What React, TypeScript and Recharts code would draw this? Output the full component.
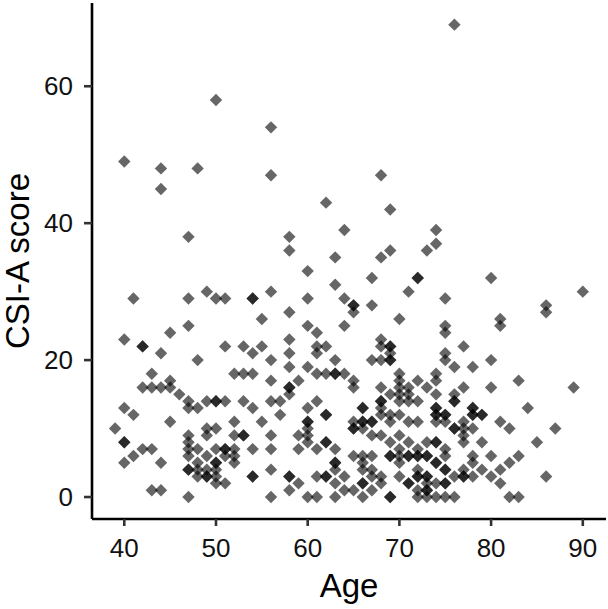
import React from "react";
import { ScatterChart, Scatter, XAxis, YAxis, Label } from "recharts";

// ages present in the sample, and the CSI-A scores seen at each age
const ageGroups: number[] = [
	39, 40, 41, 42, 43, 44, 45, 46, 47, 48, 49, 50, 51, 52, 53, 54, 55, 56, 57,
	58, 59, 60, 61, 62, 63, 64, 65, 66, 67, 68, 69, 70, 71, 72, 73, 74, 75, 76,
	77, 78, 79, 80, 81, 82, 83, 84, 85, 86, 87, 89, 90,
];

const scoreGroups: number[][] = [
	[10],
	[49, 23, 13, 8, 8, 5],
	[29, 12, 6],
	[22, 22, 16, 7],
	[18, 16, 7, 1],
	[48, 45, 21, 16, 5, 1],
	[24, 17, 16, 11],
	[15],
	[38, 29, 25, 14, 13, 9, 8, 7, 6, 4, 4, 0],
	[48, 20, 13, 7, 5, 4, 3],
	[30, 14, 10, 9, 6, 4, 3, 3],
	[58, 29, 14, 14, 10, 7, 5, 5, 4, 3, 2],
	[29, 22, 14, 7, 7, 6, 2],
	[18, 11, 9, 7, 6, 5],
	[22, 18, 14, 9, 9],
	[29, 29, 21, 18, 13, 7, 3, 3],
	[26, 22, 11],
	[54, 47, 30, 20, 17, 14, 9, 7, 4, 0],
	[14, 12],
	[38, 36, 27, 23, 21, 19, 16, 16, 15, 3, 3, 1],
	[17, 9, 7, 2],
	[33, 29, 25, 19, 13, 11, 11, 10, 9, 8, 0],
	[24, 22, 21, 18, 14, 7, 3, 0],
	[43, 22, 18, 12, 12, 8, 8, 3, 3],
	[35, 31, 20, 18, 18, 7, 5, 5, 4, 2, 0],
	[39, 29, 25, 18, 3, 1],
	[28, 28, 27, 17, 16, 11, 10, 10, 6, 1],
	[13, 13, 11, 11, 10, 6, 5, 4, 2, 2, 0],
	[32, 28, 20, 11, 11, 9, 6, 4, 3, 1],
	[47, 35, 23, 22, 20, 16, 14, 14, 13, 12, 9, 3, 2],
	[42, 36, 22, 22, 21, 20, 20, 15, 12, 11, 8, 6, 6, 0, 0],
	[26, 18, 17, 16, 15, 14, 12, 9, 7, 6, 5, 3],
	[30, 16, 15, 14, 11, 8, 6, 6, 2, 2],
	[32, 32, 17, 14, 11, 7, 6, 6, 4, 3, 3, 1, 0],
	[36, 16, 8, 6, 6, 3, 3, 2, 1, 1, 0],
	[39, 37, 18, 17, 15, 13, 13, 12, 12, 11, 8, 8, 5, 5, 2, 0],
	[29, 25, 24, 21, 20, 12, 12, 11, 7, 6, 4, 4, 2, 2, 0],
	[69, 19, 15, 14, 14, 10, 10, 3, 0],
	[22, 16, 11, 10, 9, 8, 4, 3, 3],
	[19, 13, 13, 12, 12, 10, 6, 5, 3],
	[12, 12, 8, 4],
	[32, 20, 16, 6, 3],
	[26, 25, 11, 4, 2],
	[10, 5, 0],
	[17, 6, 0],
	[13],
	[8],
	[28, 27, 3],
	[10],
	[16],
	[30],
];

const xTicks: number[] = [40, 50, 60, 70, 80, 90];
const yTicks: number[] = [0, 20, 40, 60];

const data = ageGroups.flatMap((age, i) =>
	scoreGroups[i].map((score) => ({ age, score }))
);

// rotated square marker, like ggplot's shape 18
const Diamond = (props: any) => {
	const { cx, cy } = props;
	const r = 6.2;
	return (
		<polygon
			points={`${cx},${cy - r} ${cx + r},${cy} ${cx},${cy + r} ${cx - r},${cy}`}
			fill="#000"
			fillOpacity={0.6}
		/>
	);
};

const App: React.FC = () => {
	return (
		<div style={{ position: "absolute", left: 0, top: 0 }}>
			<ScatterChart
				width={608}
				height={609}
				margin={{ top: 3, right: 2, bottom: 0, left: 0 }}
				style={{ fontFamily: "'Liberation Sans', Arial, sans-serif" }}
			>
				<XAxis
					type="number"
					dataKey="age"
					domain={[36.48, 92.53]}
					allowDataOverflow
					ticks={xTicks}
					height={90}
					axisLine={{ stroke: "#000", strokeWidth: 2.6 }}
					tickLine={{ stroke: "#333", strokeWidth: 2.6 }}
					tickSize={7}
					tickMargin={13}
					tick={{ fill: "#111", fontSize: 26 }}
				>
					<Label
						value="Age"
						position="insideBottom"
						offset={12}
						style={{ fontSize: 33, fill: "#000" }}
					/>
				</XAxis>
				<YAxis
					type="number"
					dataKey="score"
					domain={[-3.21, 72.16]}
					allowDataOverflow
					ticks={yTicks}
					width={92}
					axisLine={{ stroke: "#000", strokeWidth: 2.6 }}
					tickLine={{ stroke: "#333", strokeWidth: 2.6 }}
					tickSize={8}
					tickMargin={11}
					tick={{ fill: "#111", fontSize: 26 }}
				>
					<Label
						value="CSI-A score"
						angle={-90}
						position="insideLeft"
						offset={17}
						style={{ fontSize: 33, fill: "#000", textAnchor: "middle" }}
					/>
				</YAxis>
				<Scatter data={data} shape={Diamond} isAnimationActive={false} />
			</ScatterChart>
		</div>
	);
};

export default App;
